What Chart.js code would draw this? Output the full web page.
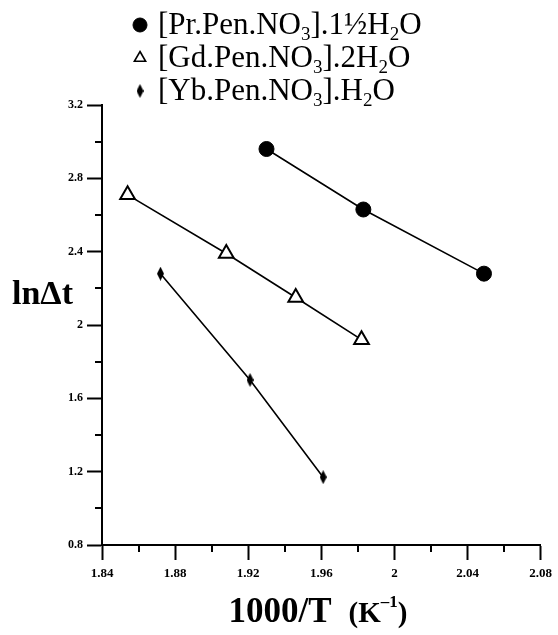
<!DOCTYPE html>
<html>
<head>
<meta charset="utf-8">
<title>lnΔt vs 1000/T</title>
<script src="https://cdn.jsdelivr.net/npm/chart.js@4.4.0/dist/chart.umd.min.js"></script>
<style>
  html, body { margin: 0; padding: 0; background: #fff; }
  canvas { display: block; }
</style>
</head>
<body>
<canvas id="chart" width="558" height="635"></canvas>
<script>
// series names, "_3" means subscript 3
const seriesLabels = ["[Pr.Pen.NO_3].1½H_2O", "[Gd.Pen.NO_3].2H_2O", "[Yb.Pen.NO_3].H_2O"];

const prX = [1.930, 1.983, 2.049];
const prY = [2.96, 2.63, 2.28];
const gdX = [1.854, 1.908, 1.946, 1.982];
const gdY = [2.71, 2.39, 2.15, 1.92];
const ybX = [1.872, 1.921, 1.961];
const ybY = [2.28, 1.70, 1.17];

const xTicks = [1.84, 1.88, 1.92, 1.96, 2, 2.04, 2.08];
const xMinorTicks = [1.86, 1.90, 1.94, 1.98, 2.02, 2.06];
const yTicks = [0.8, 1.2, 1.6, 2, 2.4, 2.8, 3.2];
const yMinorTicks = [1.0, 1.4, 1.8, 2.2, 2.6, 3.0];

const xTitle = "1000/T";
const xUnit = "(K";
const xUnitPower = "–1";
const yTitle = "lnΔt";

const SERIF = "'Liberation Serif', 'Times New Roman', serif";

function toPoints(xs, ys) {
    return xs.map((x, i) => ({ x: x, y: ys[i] }));
}

function diamondImage(w, h) {
    const c = document.createElement("canvas");
    c.width = w;
    c.height = h;
    const g = c.getContext("2d");
    g.fillStyle = "#000";
    g.beginPath();
    g.moveTo(w / 2, 0);
    g.lineTo(w, h / 2);
    g.lineTo(w / 2, h);
    g.lineTo(0, h / 2);
    g.closePath();
    g.fill();
    return c;
}

const plotDiamond = diamondImage(7, 14);
const legendDiamond = diamondImage(7, 14);

// text with subscripts written as _digit
function drawRich(ctx, str, x, y, size) {
    const parts = str.split(/(_\d)/);
    parts.forEach(function (part) {
        if (!part) return;
        if (part[0] === "_") {
            ctx.font = Math.round(size * 0.62) + "px " + SERIF;
            ctx.fillText(part.slice(1), x, y + size * 0.2);
            x += ctx.measureText(part.slice(1)).width;
        } else {
            ctx.font = size + "px " + SERIF;
            ctx.fillText(part, x, y);
            x += ctx.measureText(part).width;
        }
    });
}

const legendMarkers = [
    { pointStyle: "circle", radius: 7, borderWidth: 1, fill: "#000" },
    { pointStyle: "triangle", radius: 6.5, borderWidth: 1.6, fill: "#fff" },
    { pointStyle: legendDiamond, radius: 7, borderWidth: 0, fill: "#000" },
];

const decorations = {
    id: "decorations",
    afterDraw(chart) {
        const ctx = chart.ctx;
        const area = chart.chartArea;
        const xs = chart.scales.x;
        const ys = chart.scales.y;
        ctx.save();

        // minor ticks
        ctx.strokeStyle = "#000";
        ctx.lineWidth = 2;
        xMinorTicks.forEach(function (v) {
            const px = Math.round(xs.getPixelForValue(v));
            ctx.beginPath();
            ctx.moveTo(px, area.bottom);
            ctx.lineTo(px, area.bottom + 7);
            ctx.stroke();
        });
        yMinorTicks.forEach(function (v) {
            const py = Math.round(ys.getPixelForValue(v));
            ctx.beginPath();
            ctx.moveTo(area.left - 7, py);
            ctx.lineTo(area.left, py);
            ctx.stroke();
        });

        // legend
        ctx.textBaseline = "alphabetic";
        ctx.textAlign = "left";
        seriesLabels.forEach(function (label, i) {
            const base = 34 + i * 33;
            const m = legendMarkers[i];
            ctx.fillStyle = m.fill;
            ctx.strokeStyle = "#000";
            ctx.lineWidth = m.borderWidth;
            Chart.helpers.drawPoint(ctx, { pointStyle: m.pointStyle, radius: m.radius, borderWidth: m.borderWidth, rotation: 0 }, 140, base - 9);
            ctx.fillStyle = "#000";
            drawRich(ctx, label, 158, base, 31);
        });

        // y title
        ctx.fillStyle = "#000";
        ctx.font = "bold 34px " + SERIF;
        ctx.fillText(yTitle, 12, 304);

        // x title with superscript unit
        const big = "bold 35px " + SERIF;
        const mid = "bold 29px " + SERIF;
        const small = "bold 17px " + SERIF;
        const gap = 17;
        ctx.font = big;
        const w1 = ctx.measureText(xTitle).width;
        ctx.font = mid;
        const w2 = ctx.measureText(xUnit).width;
        const w4 = ctx.measureText(")").width;
        ctx.font = small;
        const w3 = ctx.measureText(xUnitPower).width;
        let x = 318 - (w1 + gap + w2 + w3 + w4) / 2;
        const base = 622;
        ctx.font = big;
        ctx.fillText(xTitle, x, base);
        x += w1 + gap;
        ctx.font = mid;
        ctx.fillText(xUnit, x, base);
        x += w2;
        ctx.font = small;
        ctx.fillText(xUnitPower, x, base - 15);
        x += w3;
        ctx.font = mid;
        ctx.fillText(")", x, base);

        ctx.restore();
    },
};

Chart.defaults.color = "#000";
Chart.defaults.font.family = SERIF;

new Chart(document.getElementById("chart").getContext("2d"), {
    type: "scatter",
    data: {
        datasets: [
            {
                label: seriesLabels[0],
                data: toPoints(prX, prY),
                showLine: true,
                borderColor: "#000",
                borderWidth: 1.6,
                pointStyle: "circle",
                pointRadius: 7.5,
                pointBackgroundColor: "#000",
                pointBorderColor: "#000",
                pointBorderWidth: 1,
            },
            {
                label: seriesLabels[1],
                data: toPoints(gdX, gdY),
                showLine: true,
                borderColor: "#000",
                borderWidth: 1.6,
                pointStyle: "triangle",
                pointRadius: 8.5,
                pointBackgroundColor: "#fff",
                pointBorderColor: "#000",
                pointBorderWidth: 2,
            },
            {
                label: seriesLabels[2],
                data: toPoints(ybX, ybY),
                showLine: true,
                borderColor: "#000",
                borderWidth: 1.6,
                pointStyle: plotDiamond,
                pointRadius: 7,
            },
        ],
    },
    options: {
        responsive: false,
        animation: false,
        devicePixelRatio: 1,
        layout: { padding: { top: 105, right: 14, left: 0, bottom: 0 } },
        plugins: {
            legend: { display: false },
            tooltip: { enabled: false },
        },
        scales: {
            x: {
                type: "linear",
                min: 1.84,
                max: 2.08,
                afterBuildTicks: function (scale) {
                    scale.ticks = xTicks.map(v => ({ value: v }));
                },
                afterFit: function (scale) {
                    scale.height = 90;
                },
                ticks: {
                    font: { size: 13, weight: "bold" },
                    padding: 6,
                    maxRotation: 0,
                    callback: v => String(+v.toFixed(2)),
                },
                grid: { drawOnChartArea: false, tickLength: 15, tickColor: "#000", tickWidth: 2 },
                border: { color: "#000", width: 2 },
            },
            y: {
                type: "linear",
                min: 0.8,
                max: 3.2,
                afterBuildTicks: function (scale) {
                    scale.ticks = yTicks.map(v => ({ value: v }));
                },
                afterFit: function (scale) {
                    scale.width = 102;
                },
                ticks: {
                    font: { size: 12, weight: "bold" },
                    padding: 4,
                    callback: v => String(+v.toFixed(1)),
                },
                grid: { drawOnChartArea: false, tickLength: 15, tickColor: "#000", tickWidth: 2 },
                border: { color: "#000", width: 2 },
            },
        },
    },
    plugins: [decorations],
});
</script>
</body>
</html>
